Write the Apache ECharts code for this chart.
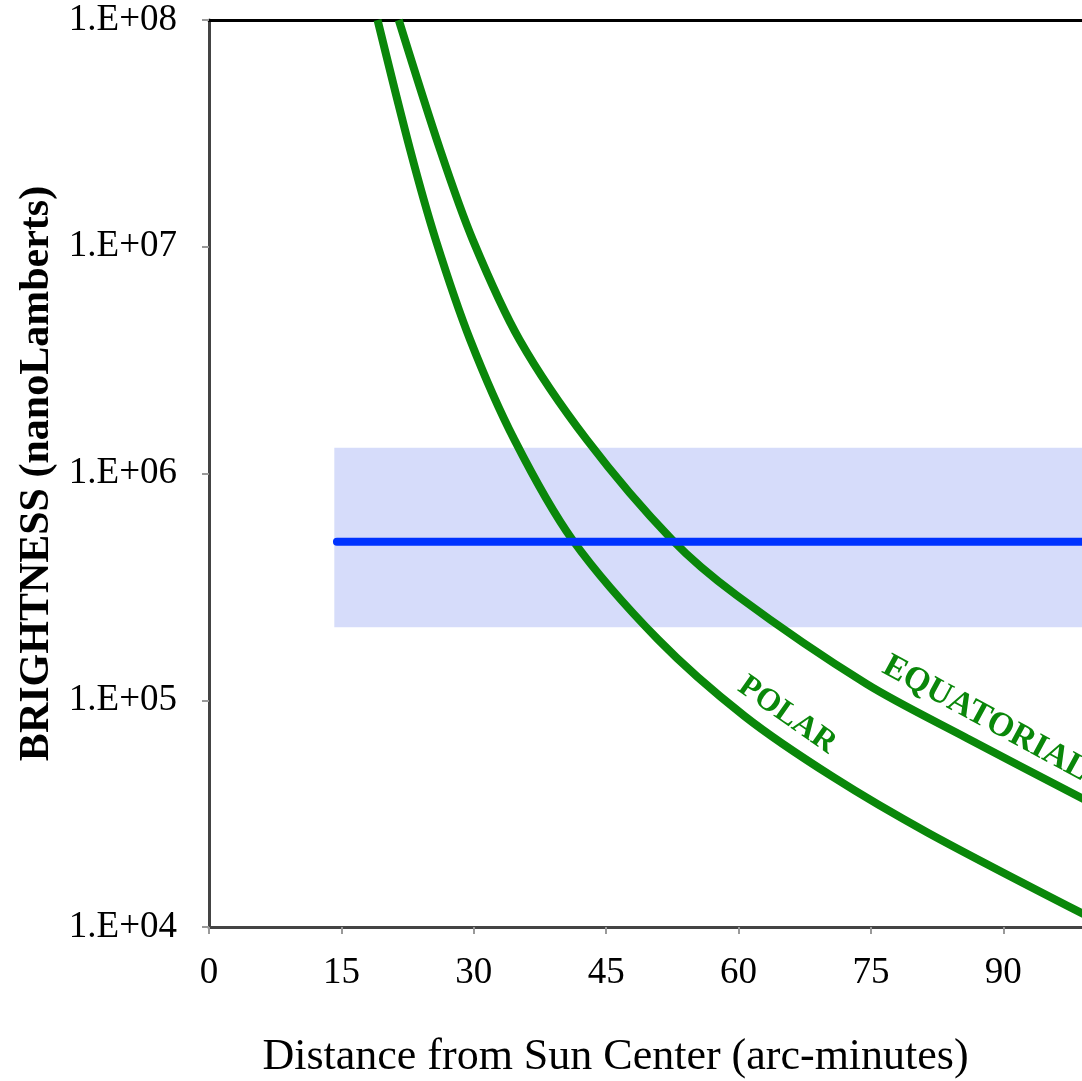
<!DOCTYPE html>
<html>
<head>
<meta charset="utf-8">
<script src="https://cdn.jsdelivr.net/npm/echarts@6/dist/echarts.min.js"></script>
<style>
  html, body { margin: 0; padding: 0; background: #fff; }
  #chart { width: 1082px; height: 1081px; }
</style>
</head>
<body>
<div id="chart"></div>
<script>
// distance (arc-minutes) vs brightness (nanoLamberts)
var polarX = [19.1, 22.8, 25.7, 29.6, 34.6, 41.2, 50.9, 60.7, 70.7, 81.5, 99.5];
var polarY = [1e8, 2.67e7, 1.07e7, 3.88e6, 1.41e6, 5.09e5, 1.85e5, 8.5e4, 4.59e4, 2.60e4, 1.12e4];
var equatX = [21.5, 26.2, 29.9, 35.2, 42.8, 52.5, 59.8, 74.5, 85.9, 99.5];
var equatY = [1e8, 2.67e7, 1.07e7, 3.88e6, 1.41e6, 5.09e5, 2.9e5, 1.18e5, 6.8e4, 3.6e4];
// sky brightness line and its range
var skyX = [14.5, 120];
var skyLevel = 5e5;
var skyBand = [14.2, 120, 2.1e5, 1.3e6];
var xTicks = [0, 15, 30, 45, 60, 75, 90, 105, 120];
var yTicks = [1e4, 1e5, 1e6, 1e7, 1e8];

var serif = 'Liberation Serif';

function pairs(xs, ys) {
    return xs.map(function (x, i) { return [x, ys[i]]; });
}

var myChart = echarts.init(document.getElementById('chart'));

var option = {
    backgroundColor: '#fff',
    animation: false,
    grid: {
        left: 209,
        top: 20,
        bottom: 154,
        width: 1059,
        outerBoundsMode: 'none',
        containLabel: false
    },
    xAxis: [{
        type: 'value',
        min: xTicks[0],
        max: xTicks[xTicks.length - 1],
        interval: 15,
        name: 'Distance from Sun Center (arc-minutes)',
        nameLocation: 'middle',
        nameGap: 108,
        nameTextStyle: {
            fontFamily: serif,
            fontSize: 44,
            color: '#000',
            padding: [0, 246, 0, 0]
        },
        splitLine: { show: false },
        axisLine: { lineStyle: { color: '#444', width: 3 } },
        axisTick: { length: 7, lineStyle: { color: '#999', width: 2 } },
        axisLabel: {
            margin: 28,
            fontFamily: serif,
            fontSize: 37,
            color: '#000'
        }
    }, {
        // top frame line
        type: 'value',
        position: 'top',
        min: xTicks[0],
        max: xTicks[xTicks.length - 1],
        axisLine: { show: true, lineStyle: { color: '#000', width: 3 } },
        axisTick: { show: false },
        axisLabel: { show: false },
        splitLine: { show: false }
    }],
    yAxis: {
        type: 'log',
        logBase: 10,
        min: yTicks[0],
        max: yTicks[yTicks.length - 1],
        name: 'BRIGHTNESS (nanoLamberts)',
        nameLocation: 'middle',
        nameGap: 142,
        nameTextStyle: {
            fontFamily: serif,
            fontSize: 42,
            fontWeight: 'bold',
            color: '#000'
        },
        splitLine: { show: false },
        axisLine: { show: true, lineStyle: { color: '#444', width: 3 } },
        axisTick: { show: true, length: 7, lineStyle: { color: '#999', width: 2 } },
        axisLabel: {
            margin: 32,
            fontFamily: serif,
            fontSize: 37,
            color: '#000',
            formatter: function (v) {
                var e = Math.round(Math.log10(v));
                return '1.E+' + (e < 10 ? '0' + e : e);
            }
        }
    },
    series: [{
        name: 'POLAR',
        type: 'line',
        data: pairs(polarX, polarY),
        smooth: 0.3,
        showSymbol: false,
        z: 2,
        lineStyle: { color: '#0a870a', width: 8 },
        markPoint: {
            symbolSize: 0,
            data: [{
                coord: [65.5, 8.6e4],
                label: {
                    show: true,
                    position: 'inside',
                    formatter: 'POLAR',
                    rotate: -35,
                    fontFamily: serif,
                    fontSize: 32,
                    fontWeight: 'bold',
                    color: '#0a870a'
                }
            }]
        }
    }, {
        name: 'EQUATORIAL',
        type: 'line',
        data: pairs(equatX, equatY),
        smooth: 0.3,
        showSymbol: false,
        z: 2,
        lineStyle: { color: '#0a870a', width: 8 },
        markPoint: {
            symbolSize: 0,
            data: [{
                coord: [88.0, 8.3e4],
                label: {
                    show: true,
                    position: 'inside',
                    formatter: 'EQUATORIAL',
                    rotate: -28.5,
                    fontFamily: serif,
                    fontSize: 34,
                    fontWeight: 'bold',
                    color: '#0a870a'
                }
            }]
        }
    }, {
        name: 'sky',
        type: 'line',
        data: skyX.map(function (x) { return [x, skyLevel]; }),
        showSymbol: false,
        z: 3,
        lineStyle: { color: '#0033ff', width: 8, cap: 'round' },
        markArea: {
            silent: true,
            itemStyle: { color: 'rgba(50,80,230,0.2)' },
            data: [[
                { coord: [skyBand[0], skyBand[2]] },
                { coord: [skyBand[1], skyBand[3]] }
            ]]
        }
    }]
};

myChart.setOption(option);
window.addEventListener('resize', function () {
    myChart.resize();
});
</script>
</body>
</html>
